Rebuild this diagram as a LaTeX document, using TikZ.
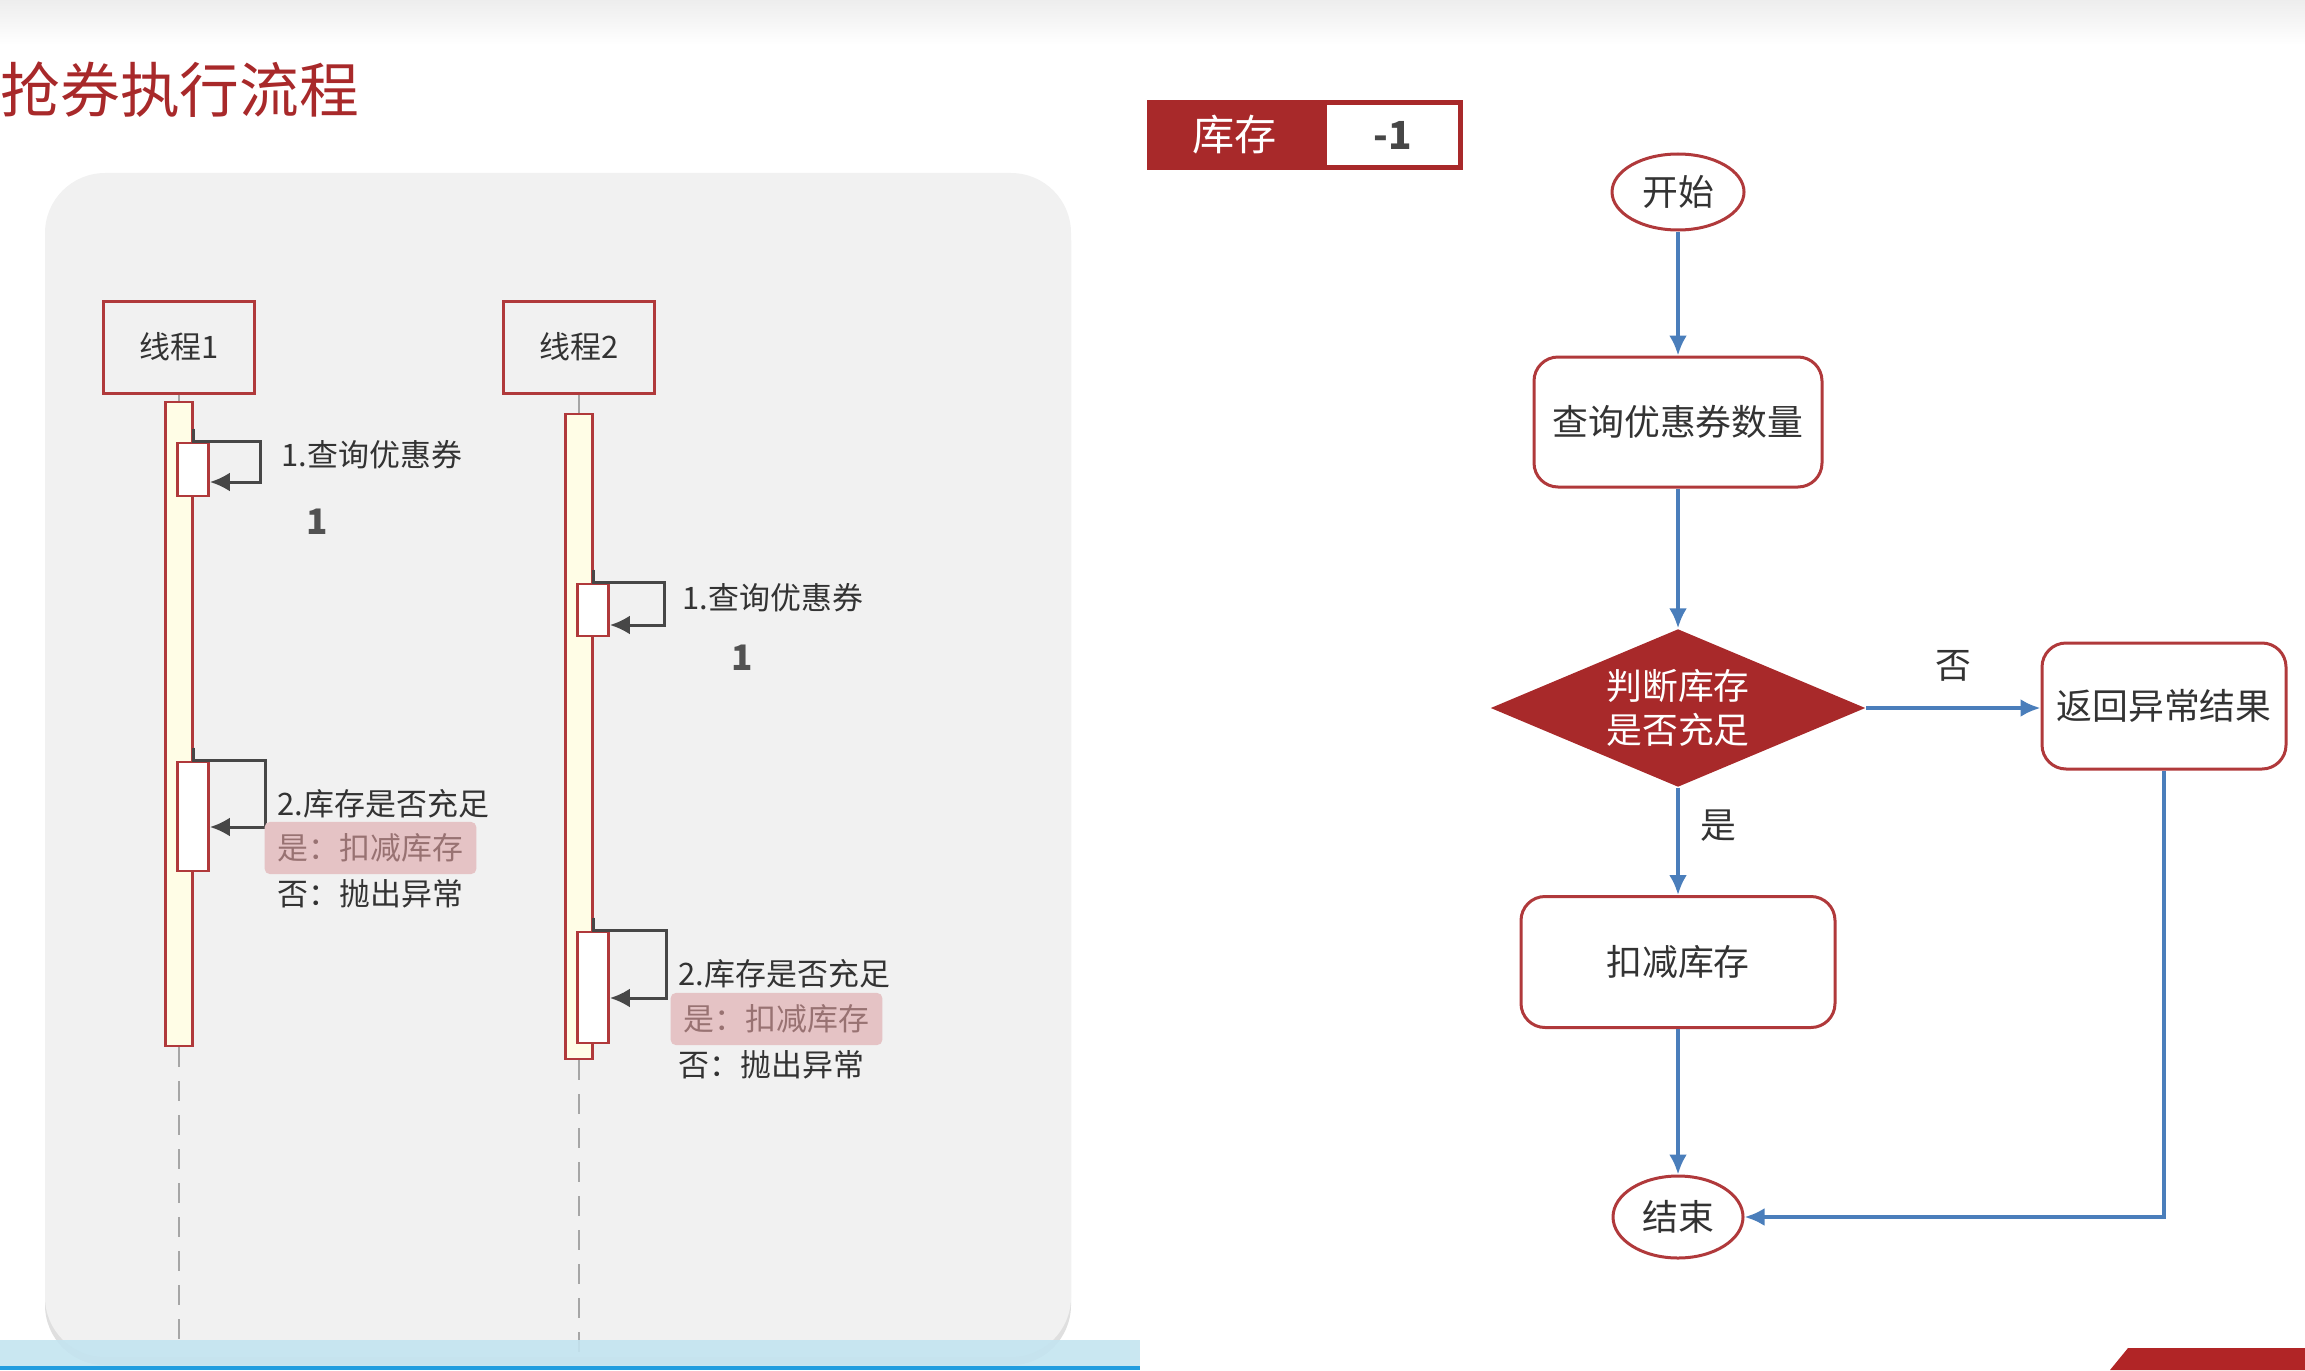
\documentclass[tikz,border=0pt]{standalone}
\usepackage{fontspec}
\setmainfont{Noto Sans CJK SC}
\usetikzlibrary{arrows.meta}
\usetikzlibrary{positioning}
\usetikzlibrary{shapes.geometric}
\usetikzlibrary{shadows}
\definecolor{brick}{HTML}{A8292A}
\definecolor{edge}{HTML}{B0393B}
\definecolor{flowblue}{HTML}{4A7EBB}
\definecolor{ink}{HTML}{333333}
\definecolor{panel}{HTML}{F1F1F1}
\definecolor{cream}{HTML}{FFFDE6}
\definecolor{blush}{HTML}{E5C3C5}
\definecolor{water}{HTML}{C3E4F0}
\tikzset{thread/.style = {draw=edge, line width=0.3mm, fill=panel, minimum width=15.1mm, minimum height=9.2mm, text=ink, font=\fontsize{8.8}{10}\selectfont}}
\tikzset{bar/.style = {draw=edge, line width=0.28mm, fill=cream, minimum width=2.7mm, inner sep=0}}
\tikzset{act/.style = {draw=edge, line width=0.28mm, fill=white, minimum width=3.1mm, inner sep=0}}
\tikzset{life/.style = {draw=black!35, line width=0.15mm}}
\tikzset{self/.style = {draw=black!72, line width=0.3mm, -{Latex[length=2mm, width=1.9mm]}}}
\tikzset{note/.style = {anchor=west, inner sep=0, text=ink, font=\fontsize{8.8}{10}\selectfont}}
\tikzset{hl/.style = {anchor=west, fill=blush, rounded corners=0.5mm, inner xsep=1.3mm, minimum height=4.3mm, text=black!50!brick!60, font=\fontsize{8.8}{10}\selectfont}}
\tikzset{num/.style = {inner sep=0, text=black!68, font=\fontsize{10}{12}\selectfont\bfseries}}
\tikzset{term/.style = {ellipse, draw=edge, line width=0.3mm, fill=white, minimum width=13.2mm, minimum height=7.6mm, inner sep=0, text=ink, font=\fontsize{10.2}{12}\selectfont}}
\tikzset{proc/.style = {draw=edge, line width=0.3mm, fill=white, rounded corners=2.4mm, text=ink, font=\fontsize{10.2}{12}\selectfont}}
\tikzset{decide/.style = {diamond, fill=brick, aspect=2.37, minimum width=37.5mm, minimum height=15.8mm, inner sep=0, align=center, text=white, font=\fontsize{10.2}{12.5}\selectfont}}
\tikzset{flow/.style = {draw=flowblue, line width=0.38mm, -{Latex[length=2mm, width=1.8mm]}}}
\tikzset{lbl/.style = {inner sep=0, text=ink, font=\fontsize{10.2}{12}\selectfont}}

\begin{document}
\begin{tikzpicture}[x=0.1mm, y=-0.1mm]
  \useasboundingbox (0,0) rectangle (2305,1370);

  % slide
  \shade [top color=black!7, bottom color=white] (0,0) rectangle (2305,45);
  \fill [panel, rounded corners=6mm, drop shadow={opacity=0.25, shadow xshift=0mm, shadow yshift=-0.8mm}] (45,173) rectangle (1071,1357);
  \node [anchor=west, inner sep=0, text=brick, font=\fontsize{17}{20}\selectfont] (title) at (0,90) {抢券执行流程};

  % threads
  \node [thread] (t1) at (179,347) {线程1};
  \node [thread] (t2) at (579,347) {线程2};
  \node [bar, minimum height=64.4mm] (b1) at (179,724) {};
  \node [bar, minimum height=64.5mm] (b2) at (579,736.5) {};
  \coordinate (e1) at (179,1352);
  \coordinate (e2) at (579,1352);
  \draw [life] (t1) -- (b1);
  \draw [life] (t2) -- (b2);
  \draw [life, dash pattern=on 2mm off 1.4mm] (b1) -- (e1);
  \draw [life, dash pattern=on 2mm off 1.4mm] (b2) -- (e2);

  \node [act, minimum height=5.3mm] (a1) at (193,469.5) {};
  \node [act, minimum height=10.9mm] (a2) at (193,816.5) {};
  \node [act, minimum height=5.2mm] (a3) at (593,610) {};
  \node [act, minimum height=11.1mm] (a4) at (593,987.5) {};

  \coordinate (r1) at (260,482);
  \coordinate (r2) at (265,827);
  \coordinate (r3) at (664,625);
  \coordinate (r4) at (666,998);
  \draw [self] (b1.east |- a1.north) ++(0,-13) -- ++(0,13) -| (r1) -- (a1.east |- r1);
  \draw [self] (b1.east |- a2.north) ++(0,-13) -- ++(0,13) -| (r2) -- (a2.east |- r2);
  \draw [self] (b2.east |- a3.north) ++(0,-13) -- ++(0,13) -| (r3) -- (a3.east |- r3);
  \draw [self] (b2.east |- a4.north) ++(0,-13) -- ++(0,13) -| (r4) -- (a4.east |- r4);

  \node [note] (q1) at (281,455) {1.查询优惠券};
  \node [num] (n1) at (317,522) {1};
  \node [note] (c1) at (277,804) {2.库存是否充足};
  \node [hl] (y1) at (264,848) {是：扣减库存};
  \node [note] (f1) at (277,894) {否：抛出异常};

  \node [note] (q2) at (682,598) {1.查询优惠券};
  \node [num] (n2) at (742,658) {1};
  \node [note] (c2) at (678,974) {2.库存是否充足};
  \node [hl] (y2) at (670,1019) {是：扣减库存};
  \node [note] (f2) at (678,1065) {否：抛出异常};

  \fill [water, opacity=0.9] (0,1340) rectangle (1140,1366);
  \fill [cyan!80!blue!90] (0,1366) rectangle (1140,1370);

  % stock counter
  \node [fill=brick, minimum width=17.5mm, minimum height=7mm, inner sep=0, text=white, font=\fontsize{12}{14}\selectfont] (stk) at (1234.5,135) {库存};
  \node [draw=brick, line width=0.5mm, fill=white, minimum width=13.6mm, minimum height=6.5mm, inner sep=0, text=black!72, font=\fontsize{11}{13}\selectfont\bfseries] (val) at (1392.5,135) {-1};

  % flow
  \node [term] (start) at (1678,192) {开始};
  \node [proc, minimum width=28.8mm, minimum height=13mm] (query) at (1678,422) {查询优惠券数量};
  \node [decide] (check) at (1678,708) {判断库存\\是否充足};
  \node [proc, minimum width=24.4mm, minimum height=12.6mm] (fail) at (2164,706) {返回异常结果};
  \node [proc, minimum width=31.4mm, minimum height=13.1mm] (deduct) at (1678,962) {扣减库存};
  \node [term, minimum width=13mm, minimum height=8.2mm] (stop) at (1678,1217) {结束};

  \draw [flow] (start) -- (query);
  \draw [flow] (query) -- (check);
  \draw [flow] (check) -- node [lbl, above=2.5mm] {否} (fail.west |- check);
  \draw [flow] (check) -- node [lbl, right=2.1mm, pos=0.35] {是} (deduct);
  \draw [flow] (deduct) -- (stop);
  \draw [flow] (fail) |- (stop);

  \fill [brick!90!red] (2110,1370) -- (2128,1348) -- (2305,1348) -- (2305,1370) -- cycle;
\end{tikzpicture}
\end{document}
